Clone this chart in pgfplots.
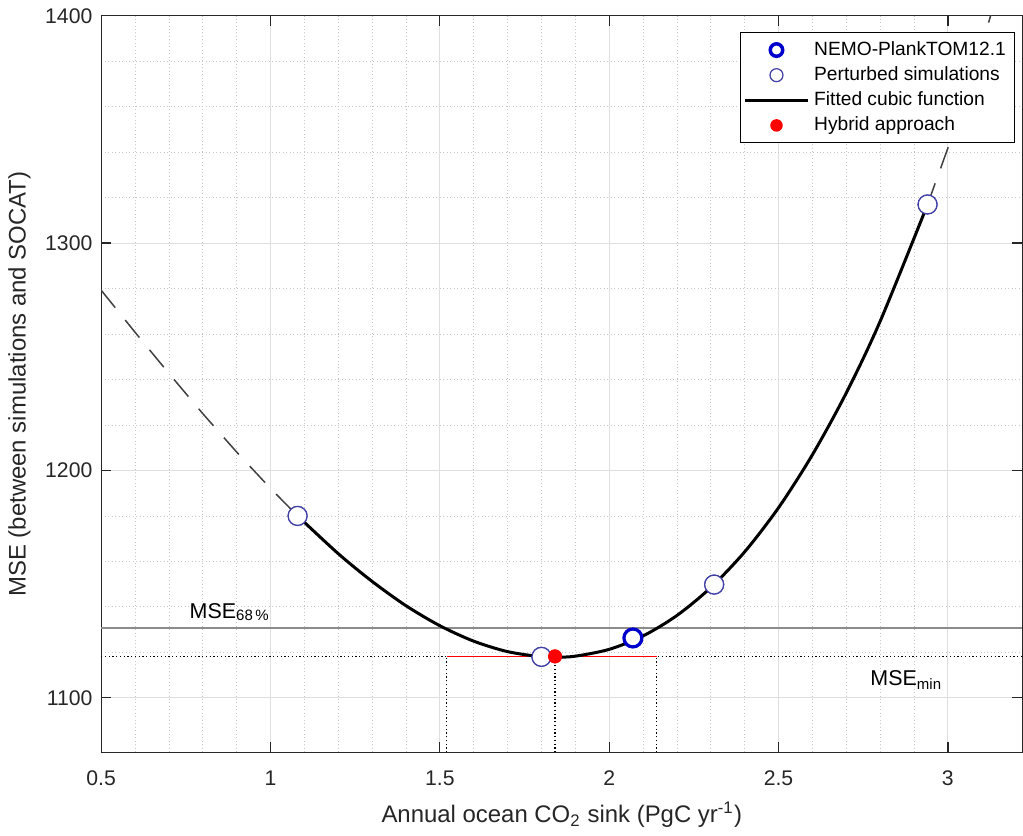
\documentclass[border=0pt]{standalone}
\usepackage{fontspec}
\setmainfont{Liberation Sans}
\usepackage{pgfplots}
\pgfplotsset{compat=1.18}
\definecolor{perturb}{rgb}{0.25,0.25,0.65}
\definecolor{nemo}{rgb}{0,0,0.8}
\definecolor{axgray}{rgb}{0.15,0.15,0.15}
\begin{document}
\begin{tikzpicture}
\begin{axis}[
    scale only axis,
    width=369.6pt, height=295.5pt,
    xmin=0.5, xmax=3.22, ymin=1076, ymax=1400,
    xtick={0.5,1,1.5,2,2.5,3},
    ytick={1100,1200,1300,1400},
    minor x tick num=4, minor y tick num=4,
    grid=both,
    major grid style={gray!25, line width=0.4pt},
    minor grid style={gray!45, densely dotted, line width=0.3pt},
    tick align=inside,
    major tick length=4pt, minor tick length=0pt,
    axis line style={axgray, line width=0.5pt},
    tick style={axgray, line width=0.5pt},
    ticklabel style={font=\fontsize{8.5}{10}\selectfont, text=axgray},
    /pgf/number format/assume math mode=true,
    xticklabel style={/pgf/number format/fixed, yshift=-4pt},
    yticklabel style={/pgf/number format/1000 sep={}},
    label style={font=\fontsize{9.6}{11}\selectfont, text=axgray},
    xlabel={Annual ocean CO\textsubscript{2} sink (PgC yr\textsuperscript{-1})},
    ylabel={MSE (between simulations and SOCAT)},
    xlabel style={yshift=0.5pt},
    ylabel style={yshift=-1pt},
    legend style={at={(0.992,0.978)}, anchor=north east, draw=black, line width=0.4pt,
        font=\fontsize{7.7}{9.5}\selectfont, cells={anchor=west},
        inner sep=1.5pt, row sep=-1pt},
    legend cell align=left,
    clip mode=individual,
]
% dashed extrapolation of the cubic
\addplot[forget plot, black!75, line width=0.6pt, dash pattern=on 9pt off 6.4pt] coordinates {
    (0.5,1279.3) (0.6,1260.8) (0.7,1242.7) (0.8,1225.0) (0.9,1208.1) (1.0,1192.1) (1.08,1180.0)
};
\addplot[forget plot, black!75, line width=0.6pt, dash pattern=on 9pt off 6.4pt] coordinates {
    (2.94,1317.0) (3.0,1341.8) (3.1,1386.9) (3.2,1437.0)
};
% MSE lines
\addplot[forget plot, gray!90, line width=0.8pt] coordinates {(0.5,1130.6) (3.22,1130.6)};
\addplot[forget plot, black, line width=0.5pt, densely dotted] coordinates {(0.5,1118.0) (3.22,1118.0)};
\addplot[forget plot, black, line width=0.5pt, densely dotted] coordinates {(1.52,1076) (1.52,1118.0)};
\addplot[forget plot, black, line width=0.5pt, densely dotted] coordinates {(1.84,1076) (1.84,1118.0)};
\addplot[forget plot, black, line width=0.5pt, densely dotted] coordinates {(2.14,1076) (2.14,1118.0)};
\addplot[forget plot, red, line width=0.4pt] coordinates {(1.52,1118.0) (2.14,1118.0)};
% legend entries
\addplot[only marks, mark=o, mark size=3.2pt, draw=nemo, line width=1.3pt,
    legend image code/.code={\draw[nemo, line width=1.4pt] (0.46cm,0) circle (2.5pt);}]
    coordinates {(2.07,1126.3)};
\addlegendentry{NEMO-PlankTOM12.1}
\addplot[only marks, mark=*, mark size=3.8pt, draw=perturb, fill=white, line width=0.5pt,
    legend image code/.code={\draw[perturb, fill=white, line width=0.5pt] (0.46cm,0) circle (2.6pt);}]
    coordinates {(1.08,1180.0) (1.80,1118.0) (2.31,1149.8) (2.94,1317.0)};
\addlegendentry{Perturbed simulations}
\addplot[black, line width=1.2pt, smooth, legend image code/.code={\draw[black, line width=1.2pt] (0.02cm,0) -- (0.9cm,0);}] coordinates {
    (1.08,1180.0) (1.2,1163.4) (1.3,1151.2) (1.4,1140.5) (1.5,1131.7) (1.6,1124.9)
    (1.7,1120.3) (1.8,1118.0) (1.84,1117.8) (1.9,1118.3) (2.0,1121.3) (2.1,1127.2)
    (2.2,1136.2) (2.3,1148.5) (2.4,1164.2) (2.5,1183.6) (2.6,1206.9) (2.7,1234.1)
    (2.8,1265.6) (2.94,1317.0)
};
\addlegendentry{Fitted cubic function}
\addplot[only marks, mark=*, mark size=2.6pt, red, fill=red,
    legend image code/.code={\fill[red] (0.46cm,0) circle (2.3pt);}]
    coordinates {(1.84,1118.2)};
\addlegendentry{Hybrid approach}
% redraw markers on top of the curve
\addplot[forget plot, only marks, mark=*, mark size=3.8pt, draw=perturb, fill=white, line width=0.5pt]
    coordinates {(1.08,1180.0) (1.80,1118.0) (2.31,1149.8) (2.94,1317.0)};
\addplot[forget plot, only marks, mark=*, mark size=3.6pt, draw=nemo, fill=white, line width=1.3pt] coordinates {(2.07,1126.3)};
\addplot[forget plot, only marks, mark=*, mark size=2.6pt, red, fill=red] coordinates {(1.84,1118.2)};
\node[anchor=south west, font=\fontsize{8.6}{10}\selectfont, inner sep=0pt] at (axis cs:0.76,1133.5) {MSE\textsubscript{68\,\%}};
\node[anchor=north west, font=\fontsize{8.6}{10}\selectfont, inner sep=0pt] at (axis cs:2.77,1112) {MSE\textsubscript{min}};
\end{axis}
\end{tikzpicture}
\end{document}
